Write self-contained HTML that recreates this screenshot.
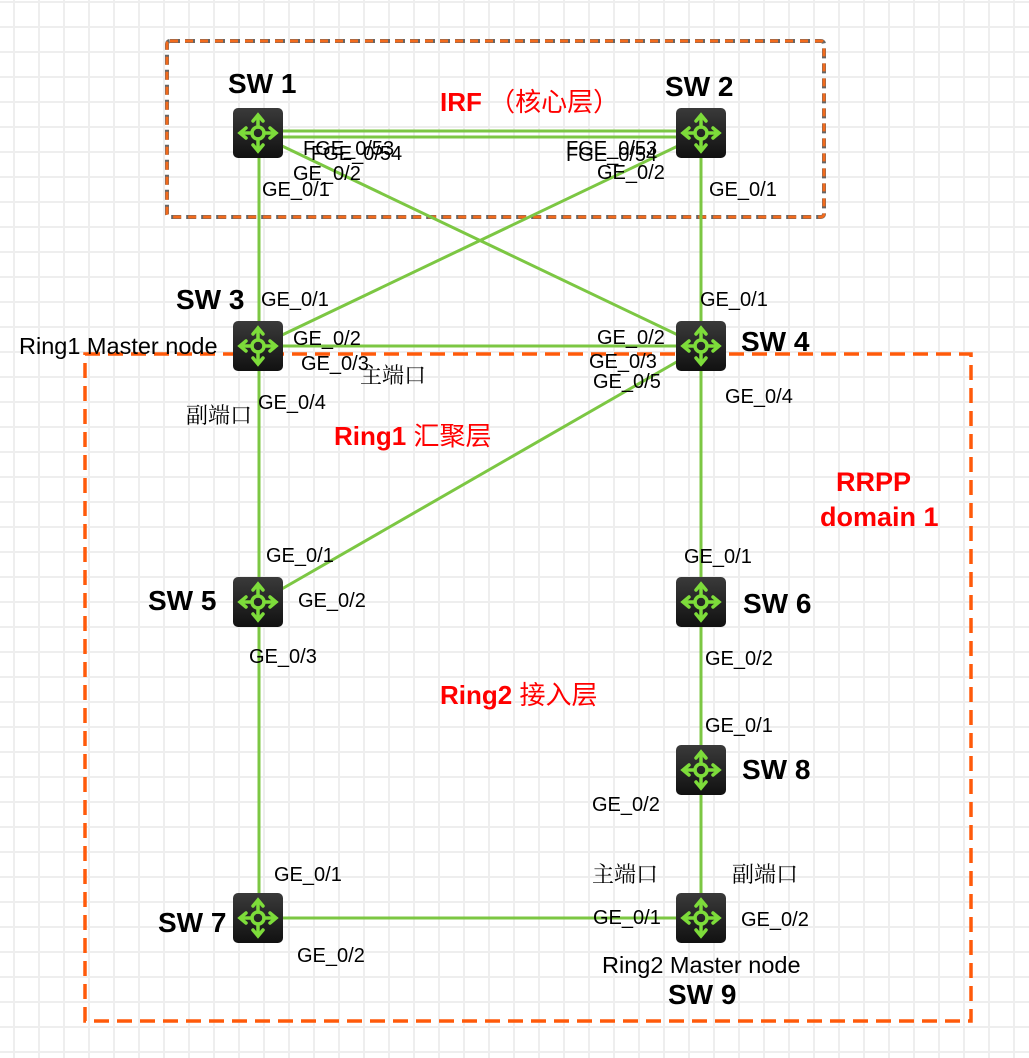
<!DOCTYPE html>
<html><head><meta charset="utf-8"><style>
html,body{margin:0;padding:0;background:#fff}
svg{display:block}
text{font-family:"Liberation Sans","Noto Sans CJK SC",sans-serif}
.p{font-size:20px;fill:#000}
.m{font-size:23.5px;fill:#000}
.n{font-size:28px;font-weight:bold;fill:#000}
.r{font-size:26px;font-weight:bold;fill:#f00}
.rr{font-size:27px;font-weight:bold;fill:#f00}
.c{font-family:"Noto Serif CJK SC","Noto Sans CJK SC",serif;font-size:22px;fill:#000}
</style></head><body>
<svg width="1029" height="1058" viewBox="0 0 1029 1058" xmlns="http://www.w3.org/2000/svg">
<defs>
<pattern id="g" x="0" y="0" width="25" height="25" patternUnits="userSpaceOnUse">
<rect x="13" y="0" width="2" height="25" fill="#eeeeee"/>
<rect x="0" y="1" width="25" height="2" fill="#eeeeee"/>
</pattern>
<linearGradient id="bg" x1="0" y1="0" x2="0" y2="1"><stop offset="0" stop-color="#3a3a3a"/><stop offset="1" stop-color="#111"/></linearGradient>
<g id="sw">
<rect x="-25" y="-25" width="50" height="50" rx="5" fill="url(#bg)"/>
<g stroke="#7ddc3a" stroke-width="3.5" fill="none" stroke-linecap="round">
<circle r="6"/>
<path d="M0-6V-17M0 6V17M-6 0H-17M6 0H17"/>
<path d="M-5-12L0-18L5-12M-5 12L0 18L5 12M-12-5L-18 0L-12 5M12-5L18 0L12 5"/>
</g>
</g>
</defs>
<rect width="1029" height="1058" fill="url(#g)"/>
<rect x="167" y="41" width="657" height="176" rx="3" fill="none" stroke="#666" stroke-width="4" stroke-dasharray="10 5"/>
<rect x="167" y="41" width="657" height="176" rx="3" fill="none" stroke="#f26b1d" stroke-width="3" stroke-dasharray="8 7"/>
<rect x="85" y="354" width="886" height="667" fill="none" stroke="#ff5a0a" stroke-width="3.5" stroke-dasharray="15 8"/>
<g stroke="#7cc743" stroke-width="3" fill="none">
<line x1="283" y1="131" x2="676" y2="131"/>
<line x1="283" y1="137" x2="676" y2="137"/>
<line x1="259" y1="158" x2="259" y2="321"/>
<line x1="701" y1="158" x2="701" y2="321"/>
<line x1="280" y1="145" x2="680" y2="336"/>
<line x1="680" y1="145" x2="280" y2="336"/>
<line x1="283" y1="346" x2="676" y2="346"/>
<line x1="680" y1="360" x2="280" y2="590"/>
<line x1="259" y1="371" x2="259" y2="577"/>
<line x1="259" y1="627" x2="259" y2="893"/>
<line x1="701" y1="371" x2="701" y2="577"/>
<line x1="701" y1="627" x2="701" y2="745"/>
<line x1="701" y1="795" x2="701" y2="893"/>
<line x1="283" y1="918" x2="676" y2="918"/>
</g>
<use href="#sw" x="258" y="133"/>
<use href="#sw" x="701" y="133"/>
<use href="#sw" x="258" y="346"/>
<use href="#sw" x="701" y="346"/>
<use href="#sw" x="258" y="602"/>
<use href="#sw" x="701" y="602"/>
<use href="#sw" x="701" y="770"/>
<use href="#sw" x="258" y="918"/>
<use href="#sw" x="701" y="918"/>
<text class="n" x="228" y="93">SW 1</text>
<text class="n" x="665" y="96">SW 2</text>
<text class="n" x="176" y="309">SW 3</text>
<text class="n" x="741" y="351">SW 4</text>
<text class="n" x="148" y="610">SW 5</text>
<text class="n" x="743" y="613">SW 6</text>
<text class="n" x="742" y="779">SW 8</text>
<text class="n" x="158" y="932">SW 7</text>
<text class="n" x="668" y="1004">SW 9</text>
<text class="r" x="440" y="111">IRF <tspan font-weight="normal">（核心层）</tspan></text>
<text class="r" x="334" y="445">Ring1 <tspan font-weight="normal">汇聚层</tspan></text>
<text class="r" x="440" y="704">Ring2 <tspan font-weight="normal">接入层</tspan></text>
<text class="rr" x="836" y="491">RRPP</text>
<text class="rr" x="820" y="526">domain 1</text>
<text class="p" x="303" y="155">FGE_0/53</text>
<text class="p" x="311" y="160">FGE_0/54</text>
<text class="p" x="293" y="180">GE_0/2</text>
<text class="p" x="262" y="196">GE_0/1</text>
<text class="p" x="566" y="155">FGE_0/53</text>
<text class="p" x="566" y="161">FGE_0/54</text>
<text class="p" x="597" y="179">GE_0/2</text>
<text class="p" x="709" y="196">GE_0/1</text>
<text class="p" x="261" y="306">GE_0/1</text>
<text class="p" x="293" y="345">GE_0/2</text>
<text class="p" x="301" y="370">GE_0/3</text>
<text class="p" x="258" y="409">GE_0/4</text>
<text class="m" x="19" y="354">Ring1 Master node</text>
<text class="p" x="700" y="306">GE_0/1</text>
<text class="p" x="597" y="344">GE_0/2</text>
<text class="p" x="589" y="368">GE_0/3</text>
<text class="p" x="593" y="388">GE_0/5</text>
<text class="p" x="725" y="403">GE_0/4</text>
<text class="p" x="266" y="562">GE_0/1</text>
<text class="p" x="298" y="607">GE_0/2</text>
<text class="p" x="249" y="663">GE_0/3</text>
<text class="p" x="684" y="563">GE_0/1</text>
<text class="p" x="705" y="665">GE_0/2</text>
<text class="p" x="705" y="732">GE_0/1</text>
<text class="p" x="592" y="811">GE_0/2</text>
<text class="p" x="274" y="881">GE_0/1</text>
<text class="p" x="297" y="962">GE_0/2</text>
<text class="p" x="593" y="924">GE_0/1</text>
<text class="p" x="741" y="926">GE_0/2</text>
<text class="m" x="602" y="973">Ring2 Master node</text>
<text class="c" x="360" y="383">主端口</text>
<text class="c" x="186" y="423">副端口</text>
<text class="c" x="592" y="882">主端口</text>
<text class="c" x="732" y="882">副端口</text>
</svg>
</body></html>
